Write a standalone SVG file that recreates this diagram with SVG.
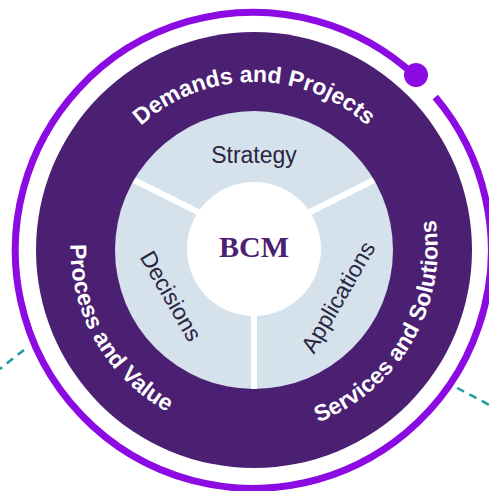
<svg xmlns="http://www.w3.org/2000/svg" width="489" height="491" viewBox="0 0 489 491">
  <style>
    .band { font-family: "Liberation Sans", Arial, sans-serif; font-weight: bold; font-size: 23px; fill: #ffffff; }
    .inner { font-family: "Liberation Sans", Arial, sans-serif; font-size: 23px; fill: #2a2541; }
    .core { font-family: "Liberation Serif", "Times New Roman", serif; font-weight: bold; font-size: 30px; fill: #4b2073; }
    .divider { stroke: #ffffff; stroke-width: 6; }
    .teal { fill: none; stroke: #1a9e9e; stroke-width: 2.5; stroke-dasharray: 8 6; }
  </style>
  <defs>
    <path id="arcTop" d="M 86 250 A 168 168 0 0 1 422 250"/>
    <path id="arcLeft" d="M 160.5 88.1 A 187 187 0 0 0 347.5 411.9"/>
    <path id="arcRight" d="M 160.5 411.9 A 187 187 0 0 0 347.5 88.1"/>
    <clipPath id="innerClip"><circle cx="254" cy="250" r="139"/></clipPath>
  </defs>

  <g id="connectors">
    <path class="teal" d="M 24 350 Q 12 359 0 369"/>
    <path class="teal" d="M 457 388 Q 473 396 489 405"/>
  </g>

  <g id="outer-ring">
    <path d="M 435.3 97 A 238 238 0 1 1 415.3 76" fill="none" stroke="#8c0be2" stroke-width="7"/>
    <circle cx="416" cy="75" r="12" fill="#8c0be2"/>
  </g>

  <g id="band">
    <circle cx="254" cy="250" r="218" fill="#4b2073"/>
    <text class="band"><textPath href="#arcTop" startOffset="50%" text-anchor="middle">Demands and Projects</textPath></text>
    <text class="band"><textPath href="#arcLeft" startOffset="50%" text-anchor="middle">Process and Value</textPath></text>
    <text class="band"><textPath href="#arcRight" startOffset="50%" text-anchor="middle">Services and Solutions</textPath></text>
  </g>

  <g id="inner-ring">
    <circle cx="254" cy="250" r="139" fill="#d5e1eb"/>
    <g clip-path="url(#innerClip)">
      <line class="divider" x1="254" y1="240" x2="130" y2="178"/>
      <line class="divider" x1="254" y1="240" x2="378" y2="178"/>
      <line class="divider" x1="254" y1="250" x2="254" y2="395"/>
    </g>
  </g>

  <g id="strategy">
    <text class="inner" x="254" y="163" text-anchor="middle">Strategy</text>
  </g>
  <g id="decisions">
    <text class="inner" transform="translate(171,296) rotate(60)" x="0" y="8" text-anchor="middle">Decisions</text>
  </g>
  <g id="applications">
    <text class="inner" transform="translate(338,297) rotate(-60)" x="0" y="8" text-anchor="middle">Applications</text>
  </g>

  <g id="bcm">
    <circle cx="254" cy="249" r="67" fill="#ffffff"/>
    <text class="core" x="254" y="257" text-anchor="middle">BCM</text>
  </g>
</svg>
